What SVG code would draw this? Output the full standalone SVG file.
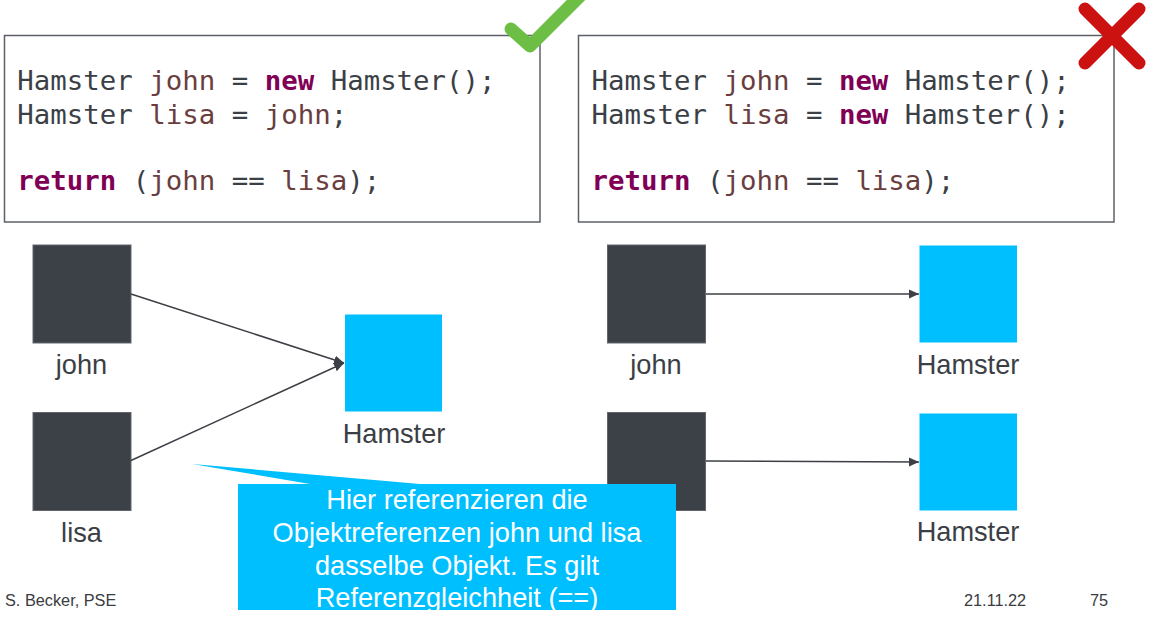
<svg xmlns="http://www.w3.org/2000/svg" width="1152" height="617" viewBox="0 0 1152 617">
<defs>
<style>
.code{font-family:"DejaVu Sans Mono","Liberation Mono",monospace;font-size:27.4px;fill:#3b3f46}
.kw{fill:#7f0055;font-weight:bold}
.var{fill:#6a3e3e}
.box{fill:#ffffff;stroke:#5c6066;stroke-width:1.5}
.ref{fill:#3c4148;stroke:#62666c;stroke-width:1}
.obj{fill:#00bfff}
.lbl{font-family:"Liberation Sans",Arial,sans-serif;font-size:27.2px;fill:#3b3f45;text-anchor:middle}
.call{font-family:"Liberation Sans",Arial,sans-serif;font-size:27.2px;fill:#ffffff;text-anchor:middle}
.foot{font-family:"Liberation Sans",Arial,sans-serif;font-size:16.3px;fill:#3a3c40}
.conn{stroke:#3c3f45;stroke-width:1.5;fill:none;marker-end:url(#arr)}
</style>
<marker id="arr" markerWidth="10" markerHeight="10" viewBox="0 0 10 10" refX="10" refY="5" orient="auto" markerUnits="userSpaceOnUse">
<path d="M0,0.5 L10,5 L0,9.5 Z" fill="#3c3f45"/>
</marker>
</defs>
<rect width="1152" height="617" fill="#ffffff"/>

<g id="code-left">
<rect class="box" x="4.5" y="35.5" width="535.5" height="186.5"/>
<text class="code" x="17.3" y="90">Hamster <tspan class="var">john</tspan> = <tspan class="kw">new</tspan> Hamster();</text>
<text class="code" x="17.3" y="123.5">Hamster <tspan class="var">lisa</tspan> = <tspan class="var">john</tspan>;</text>
<text class="code" x="17.3" y="189.5"><tspan class="kw">return</tspan> (<tspan class="var">john</tspan> == <tspan class="var">lisa</tspan>);</text>
</g>
<g id="code-right">
<rect class="box" x="578.5" y="35.5" width="535.5" height="186.5"/>
<text class="code" x="591.5" y="90">Hamster <tspan class="var">john</tspan> = <tspan class="kw">new</tspan> Hamster();</text>
<text class="code" x="591.5" y="123.5">Hamster <tspan class="var">lisa</tspan> = <tspan class="kw">new</tspan> Hamster();</text>
<text class="code" x="591.5" y="189.5"><tspan class="kw">return</tspan> (<tspan class="var">john</tspan> == <tspan class="var">lisa</tspan>);</text>
</g>
<g id="check">
<polyline points="511,29 530,46 582,-6" fill="none" stroke="#6cbf44" stroke-width="13" stroke-linecap="round" stroke-linejoin="round"/>
</g>
<g id="cross">
<line x1="1085" y1="9" x2="1139" y2="63" stroke="#cc1111" stroke-width="13" stroke-linecap="round"/>
<line x1="1139" y1="9" x2="1085" y2="63" stroke="#cc1111" stroke-width="13" stroke-linecap="round"/>
</g>

<g id="left-john">
<rect class="ref" x="33" y="245" width="98" height="98"/>
<text class="lbl" x="81.5" y="373.5">john</text>
</g>
<g id="left-lisa">
<rect class="ref" x="33" y="412.5" width="98" height="98"/>
<text class="lbl" x="81.5" y="541.5">lisa</text>
</g>
<g id="left-hamster">
<rect class="obj" x="345" y="314.5" width="97" height="97"/>
<text class="lbl" x="394" y="442.5">Hamster</text>
</g>
<g id="right-john">
<rect class="ref" x="607.5" y="245" width="98" height="98"/>
<text class="lbl" x="656" y="373.5">john</text>
</g>
<g id="right-lisa">
<rect class="ref" x="607.5" y="412.5" width="98" height="98"/>
</g>
<g id="right-hamster1">
<rect class="obj" x="919.5" y="245.5" width="97.5" height="97"/>
<text class="lbl" x="968" y="373.5">Hamster</text>
</g>
<g id="right-hamster2">
<rect class="obj" x="919.5" y="413.5" width="97.5" height="97"/>
<text class="lbl" x="968" y="541">Hamster</text>
</g>

<g id="connectors">
<line class="conn" x1="131" y1="294" x2="344" y2="363"/>
<line class="conn" x1="131" y1="460.5" x2="344" y2="363"/>
<line class="conn" x1="706" y1="294" x2="919" y2="294"/>
<line class="conn" x1="706" y1="461" x2="919" y2="462"/>
</g>

<g id="callout">
<path d="M238,484 L310,484 L192,464 L420,484 L676,484 L676,610 L238,610 Z" fill="#00bfff"/>
<text class="call" x="457" y="508.8">Hier referenzieren die</text>
<text class="call" x="457" y="542">Objektreferenzen john und lisa</text>
<text class="call" x="457" y="574.5">dasselbe Objekt. Es gilt</text>
<text class="call" x="457" y="607.2">Referenzgleichheit (==)</text>
</g>

<g id="footer">
<text class="foot" x="5" y="606">S. Becker, PSE</text>
<text class="foot" x="964" y="606">21.11.22</text>
<text class="foot" x="1090" y="606">75</text>
</g>
</svg>
